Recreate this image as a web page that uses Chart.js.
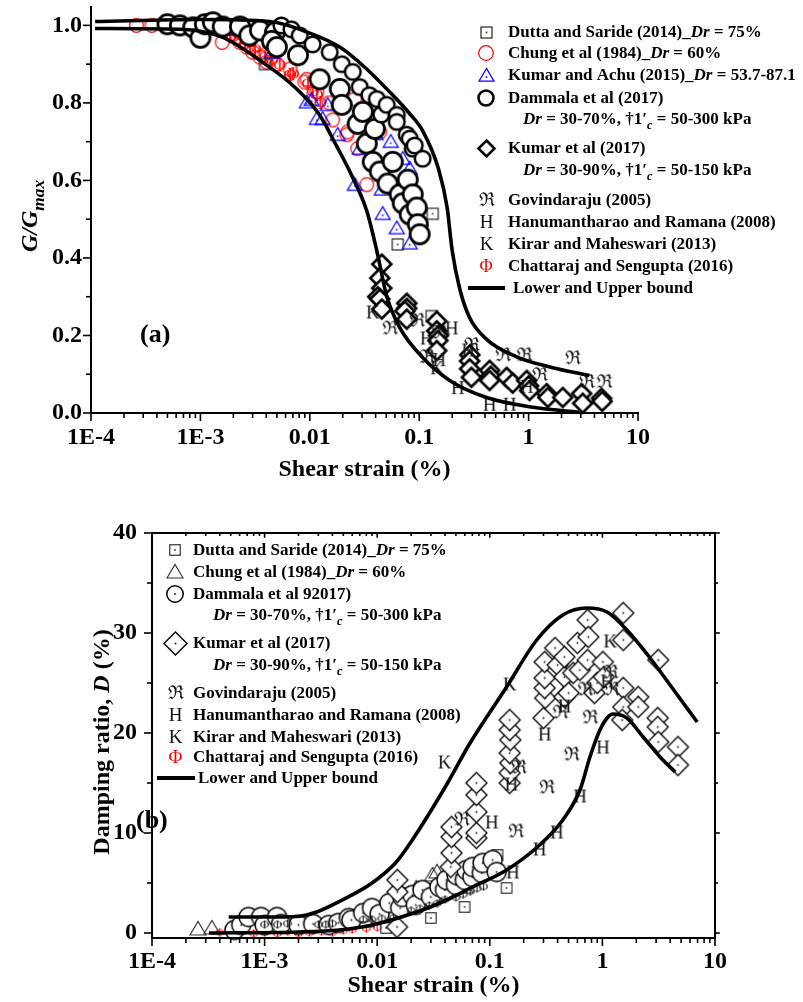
<!DOCTYPE html>
<html>
<head>
<meta charset="utf-8">
<script src="https://cdn.jsdelivr.net/npm/chart.js@4.4.1/dist/chart.umd.min.js"></script>
<style>
html, body { margin: 0; padding: 0; background: #fff; }
#wrap { position: relative; width: 803px; height: 1002px; overflow: hidden; }
canvas { position: absolute; left: 0; }
#c1 { top: 0; }
#c2 { top: 480px; }
</style>
</head>
<body>
<div id="wrap">
  <canvas id="c1" width="803" height="490"></canvas>
  <canvas id="c2" width="803" height="522"></canvas>
</div>
<script>
const FONT = '"Liberation Serif", "Times New Roman", serif';

// axis ticks
const xTickValues = [1e-4, 1e-3, 0.01, 0.1, 1, 10];
const xTickLabels = ['1E-4', '1E-3', '0.01', '0.1', '1', '10'];
const gTickValues = [0, 0.2, 0.4, 0.6, 0.8, 1.0];
const gTickLabels = ['0.0', '0.2', '0.4', '0.6', '0.8', '1.0'];
const dTickValues = [0, 10, 20, 30, 40];
const dTickLabels = ['0', '10', '20', '30', '40'];

// ---- (a) G/Gmax vs shear strain ----
const gUpperBound = [[1.09e-4,1.01],[1e-3,1.015],[4.3e-3,1.01],[0.01,0.98],[0.0188,0.944],[0.0318,0.892],[0.0538,0.828],[0.0819,0.772],[0.1076,0.728],[0.15,0.63],[0.18,0.53],[0.2,0.42],[0.235,0.32],[0.29,0.245],[0.413,0.19],[0.776,0.145],[1.66,0.117],[3.6,0.097]];
const gLowerBound = [[1.09e-4,0.992],[6.5e-4,0.99],[1.6e-3,0.969],[3.7e-3,0.905],[7.6e-3,0.836],[0.0123,0.769],[0.0177,0.687],[0.0232,0.623],[0.0332,0.521],[0.041,0.418],[0.0505,0.301],[0.0664,0.22],[0.1076,0.143],[0.19,0.084],[0.413,0.04],[1.09,0.015],[2.92,0.002]];
const gDutta = [[3.9e-3,0.9],[0.0636,0.435],[0.133,0.514],[0.13,0.25]];
const gChung = [[2.6e-4,1.0],[3.6e-4,1.0],[1.58e-3,0.956],[1.8e-3,1.0],[1.98e-3,0.977],[2.0e-3,0.995],[2.1e-3,0.99],[2.2e-3,0.97],[2.3e-3,0.956],[2.4e-3,0.98],[2.66e-3,0.944],[2.8e-3,0.965],[3.0e-3,0.931],[3.3e-3,0.95],[3.5e-3,0.918],[4.05e-3,0.905],[5.0e-3,0.9],[6.6e-3,0.887],[9.0e-3,0.854],[9.4e-3,0.861],[0.0116,0.828],[0.015,0.8],[0.0162,0.756],[0.0218,0.718],[0.0222,0.725],[0.0258,0.81],[0.0274,0.682],[0.0332,0.589],[0.034,0.772],[0.0436,0.725]];
const gChattaraj = [[1.86e-3,0.969],[2.2e-3,0.98],[2.55e-3,0.951],[2.9e-3,0.96],[3.15e-3,0.938],[3.9e-3,0.918],[4.5e-3,0.91],[5.3e-3,0.897],[6.6e-3,0.872],[7.0e-3,0.874],[9.6e-3,0.849],[0.0106,0.828],[0.0116,0.82],[0.0125,0.8]];
const gKumarAchu = [[1.3e-3,1.0],[2.0e-3,0.99],[4.5e-3,0.93],[9.4e-3,0.802],[0.0104,0.808],[0.0116,0.759],[0.0131,0.759],[0.0146,0.795],[0.018,0.718],[0.0258,0.589],[0.0286,0.682],[0.04,0.72],[0.0455,0.577],[0.0464,0.514],[0.055,0.7],[0.0624,0.477],[0.0707,0.656],[0.0819,0.631],[0.0819,0.438]];
const gDammalaLarge = [[5.0e-4,1.003],[6.5e-4,1.0],[8.6e-4,0.995],[1e-3,0.968],[1.1e-3,1.003],[1.3e-3,1.008],[1.6e-3,0.997],[2.3e-3,0.997],[2.8e-3,0.974],[3.5e-3,0.987],[4.8e-3,0.982],[4.5e-3,0.96],[5.0e-3,0.944],[7.8e-3,0.923],[0.0123,0.861],[0.0188,0.836],[0.0196,0.795],[0.0274,0.746],[0.0305,0.777],[0.0332,0.695],[0.0376,0.648],[0.0393,0.733],[0.0436,0.623],[0.0515,0.592],[0.0573,0.648],[0.0664,0.564],[0.0707,0.541],[0.0785,0.602],[0.0819,0.512],[0.0873,0.564],[0.095,0.53],[0.097,0.487],[0.101,0.461]];
const gDammalaSmall = [[5.5e-3,1.0],[6.8e-3,0.99],[8.1e-3,0.974],[0.0106,0.951],[0.0152,0.931],[0.0196,0.9],[0.0247,0.88],[0.0286,0.841],[0.035,0.82],[0.041,0.81],[0.045,0.77],[0.0505,0.795],[0.0624,0.769],[0.0624,0.751],[0.0769,0.718],[0.0819,0.708],[0.0873,0.682],[0.091,0.69],[0.1076,0.656]];
const gKumar = [[0.0455,0.384],[0.0436,0.348],[0.0455,0.322],[0.0418,0.3],[0.0436,0.294],[0.0455,0.268],[0.0769,0.283],[0.0769,0.27],[0.0738,0.263],[0.0769,0.242],[0.1445,0.237],[0.1445,0.212],[0.15,0.2],[0.148,0.187],[0.1445,0.161],[0.29,0.15],[0.289,0.134],[0.289,0.114],[0.3,0.092],[0.44,0.11],[0.45,0.095],[0.44,0.084],[0.63,0.092],[0.715,0.077],[0.96,0.084],[1.0,0.07],[1.02,0.058],[1.46,0.05],[1.5,0.04],[2.05,0.04],[3.05,0.05],[3.12,0.025],[4.64,0.038],[4.7,0.03]];
const gGovindaraju = [[0.0538,0.217],[0.095,0.237],[0.152,0.206],[0.117,0.143],[0.3,0.174],[0.58,0.148],[0.91,0.148],[1.26,0.097],[2.52,0.14],[3.39,0.079],[4.9,0.079]];
const gHanumantharao = [[0.198,0.217],[0.117,0.191],[0.152,0.135],[0.225,0.063],[0.28,0.16],[0.44,0.02],[0.67,0.02],[0.96,0.066]];
const gKirar = [[0.0376,0.258],[0.145,0.114]];

// ---- (b) damping ratio vs shear strain ----
const dUpperBound = [[4.8e-4,1.6],[1.3e-3,1.6],[2.1e-3,1.7],[2.9e-3,2.1],[4.7e-3,3.2],[9.0e-3,5.0],[0.0148,7.1],[0.0205,9.3],[0.0412,14.8],[0.066,18.9],[0.141,24.6],[0.261,29.3],[0.445,31.8],[0.728,32.5],[1.10,32.1],[1.65,30.3],[2.61,27.6],[4.3,24.3],[6.95,21.1]];
const dLowerBound = [[3.2e-4,0.0],[2.0e-3,0.1],[4.6e-3,0.3],[9.0e-3,0.8],[0.0252,2.3],[0.0412,3.3],[0.0703,4.6],[0.141,6.3],[0.277,8.8],[0.445,11.3],[0.632,14.3],[0.775,17.6],[0.95,20.3],[1.10,21.5],[1.24,21.9],[1.65,21.5],[2.30,19.6],[3.25,17.6],[4.43,16.1]];
const dDutta = [[0.012,0.5],[0.03,1.5],[0.0597,2.6],[0.141,4.5],[0.117,7.8]];
const dChung = [[2.56e-4,0.4],[3.4e-4,0.5],[8e-3,1.2],[0.013,2.0],[0.018,3.0],[0.0222,4.5],[0.025,3.5],[0.031,5.8],[0.034,6.1],[0.04,4.2],[0.05,5.0],[0.06,4.6]];
const dDammala = [[5.4e-4,0.3],[6.2e-4,0.8],[7.2e-4,1.6],[9.3e-4,1.6],[1.0e-3,0.8],[1.29e-3,1.6],[1.4e-3,0.9],[2.0e-3,0.8],[2.7e-3,0.9],[3.7e-3,0.8],[4.5e-3,1.0],[5.6e-3,1.5],[5.9e-3,1.3],[7.5e-3,2.0],[9.0e-3,2.5],[0.0105,1.9],[0.0128,3.0],[0.016,2.5],[0.0167,3.6],[0.0205,3.8],[0.022,2.8],[0.0252,4.3],[0.03,3.6],[0.0357,4.6],[0.04,4.3],[0.0412,5.3],[0.05,4.8],[0.0506,5.8],[0.06,5.3],[0.062,6.3],[0.07,5.6],[0.0703,6.6],[0.085,6.0],[0.0863,7.0],[0.106,7.3],[0.115,6.1]];
const dChainMarks = [[1.0e-3,0.9],[1.3e-3,0.9],[1.6e-3,1.0],[3.0e-3,0.9],[3.5e-3,0.9],[4.0e-3,1.0],[7.5e-3,1.4],[9.0e-3,1.4],[0.011,1.5],[0.014,1.6],[0.02,2.3],[0.024,2.5],[0.029,2.8],[0.034,3.0],[0.04,3.4],[0.05,3.6],[0.058,3.9],[0.067,4.2],[0.077,4.5],[0.088,4.7]];
const dChattaraj = [[4.0e-4,0.1],[5.0e-4,0.0],[6.0e-4,0.2],[8.0e-4,0.0],[1.0e-3,0.1],[1.3e-3,0.0],[1.6e-3,0.2],[2.0e-3,0.0],[2.5e-3,0.1],[3.2e-3,0.2],[4.0e-3,0.1],[5.0e-3,0.3],[6.0e-3,0.4],[8.0e-3,0.5],[0.01,0.6]];
const dKumar = [[0.015,0.6],[0.0151,4.1],[0.0151,5.3],[0.045,6.6],[0.0457,8.0],[0.0457,9.6],[0.0457,10.6],[0.076,9.5],[0.076,10.0],[0.076,12.1],[0.076,13.8],[0.076,15.0],[0.15,15.0],[0.15,16.0],[0.152,17.0],[0.15,18.0],[0.152,19.3],[0.15,20.3],[0.15,21.3],[0.3,21.5],[0.31,23.5],[0.307,24.5],[0.307,25.5],[0.307,27.1],[0.38,28.5],[0.4,26.8],[0.46,23.6],[0.46,25.6],[0.46,27.6],[0.5,24.0],[0.55,26.0],[0.6,29.0],[0.63,26.3],[0.74,27.3],[0.74,31.3],[0.75,29.6],[0.85,24.0],[0.9,25.0],[1.01,27.1],[1.03,25.6],[1.53,32.0],[1.53,29.3],[1.53,24.5],[1.53,22.6],[1.5,21.3],[2.08,23.6],[2.08,22.6],[3.13,27.3],[3.1,21.5],[3.1,20.6],[3.13,19.1],[4.69,18.6],[4.69,16.8]];
const dGovindaraju = [[0.056,11.3],[0.17,10.1],[0.18,16.5],[0.32,14.5],[0.42,22.0],[0.53,17.8],[0.7,24.3],[0.775,21.5],[1.17,26.0],[1.2,24.3]];
const dHanumantharao = [[0.104,11.0],[0.155,14.8],[0.16,6.0],[0.277,8.3],[0.307,19.8],[0.393,10.0],[0.46,22.6],[0.632,13.6],[1.01,18.5],[1.10,25.1]];
const dKirar = [[0.0396,17.0],[0.15,24.8],[1.17,29.1]];

// ---- marker pictures ----
function mk(w, h, draw) {
  const c = document.createElement('canvas');
  c.width = w; c.height = h;
  const g = c.getContext('2d');
  g.translate(w / 2, h / 2);
  draw(g);
  return c;
}
function dotAt(g, color) { g.fillStyle = color; g.fillRect(-0.8, -0.8, 1.6, 1.6); }
function circleMk(r, lw, color, fill, dot) {
  const s = Math.ceil(2 * r + lw + 2);
  return mk(s, s, g => {
    g.beginPath(); g.arc(0, 0, r, 0, Math.PI * 2);
    if (fill) { g.fillStyle = fill; g.fill(); }
    g.lineWidth = lw; g.strokeStyle = color; g.stroke();
    if (dot) dotAt(g, color);
  });
}
function diamondMk(h, lw, color, dot) {
  const s = Math.ceil(2 * h + lw + 2);
  return mk(s, s, g => {
    g.beginPath(); g.moveTo(0, -h); g.lineTo(h, 0); g.lineTo(0, h); g.lineTo(-h, 0); g.closePath();
    g.fillStyle = '#fff'; g.fill();
    g.lineWidth = lw; g.strokeStyle = color; g.lineJoin = 'miter'; g.stroke();
    if (dot) dotAt(g, color);
  });
}
function squareMk(a, lw, color) {
  const s = Math.ceil(a + lw + 2);
  return mk(s, s, g => {
    g.lineWidth = lw; g.strokeStyle = color; g.strokeRect(-a / 2, -a / 2, a, a);
    dotAt(g, color);
  });
}
function triangleMk(a, lw, color, dot) {
  const s = Math.ceil(2 * a + lw + 2);
  return mk(s, s, g => {
    g.beginPath(); g.moveTo(0, -a * 0.95); g.lineTo(a, a * 0.75); g.lineTo(-a, a * 0.75); g.closePath();
    g.lineWidth = lw; g.strokeStyle = color; g.stroke();
    if (dot) { g.translate(0, a * 0.2); dotAt(g, color); }
  });
}
function glyphMk(ch, size, color) {
  const s = Math.ceil(size * 1.4);
  return mk(s, s, g => {
    g.font = `${size}px ${FONT}`; g.fillStyle = color;
    g.textAlign = 'center'; g.textBaseline = 'middle';
    g.fillText(ch, 0, 1);
  });
}

const RE = '\u211C';
const mkG = {
  dutta: squareMk(11, 1.3, '#333'),
  chung: circleMk(6.8, 1.2, '#ff0000', null, false),
  achu: triangleMk(7.5, 1.2, '#0000ff', true),
  dammalaL: circleMk(9.6, 2.7, '#000', '#fff', false),
  dammalaS: circleMk(7.8, 2.5, '#000', '#fff', false),
  kumar: diamondMk(9.5, 2.6, '#000', false),
  gov: glyphMk(RE, 19, '#111'),
  han: glyphMk('H', 19, '#111'),
  kir: glyphMk('K', 19, '#111'),
  cha: glyphMk('\u03A6', 18, '#ff0000'),
  legCircle: circleMk(7.5, 2.6, '#000', '#fff', false),
  legDiamond: diamondMk(8, 2.6, '#000', false),
  legChung: circleMk(7.3, 1.2, '#ff0000', null, false)
};
const mkD = {
  dutta: squareMk(10.5, 1.2, '#333'),
  chung: triangleMk(8, 1.1, '#333', false),
  dammala: circleMk(9.5, 1.5, '#000', '#fff', true),
  kumar: diamondMk(10.5, 1.3, '#000', true),
  chain: glyphMk('\u03A6', 13, '#222'),
  cha: glyphMk('\u03A6', 13, '#ff0000'),
  gov: glyphMk(RE, 19, '#111'),
  han: glyphMk('H', 19, '#111'),
  kir: glyphMk('K', 19, '#111'),
  legCha: glyphMk('\u03A6', 19, '#ff0000'),
  legCircle: circleMk(8.2, 1.5, '#000', '#fff', true),
  legDiamond: diamondMk(11.5, 1.4, '#000', true)
};

// ---- helpers ----
const pts = a => a.map(([x, y]) => ({ x, y }));
function scat(data, pic, order) {
  return { data: pts(data), pointStyle: pic, pointRadius: 5, order, clip: false };
}
function bound(data) {
  return { data: pts(data), showLine: true, borderColor: '#000', borderWidth: 3.6, pointRadius: 0,
           cubicInterpolationMode: 'monotone', order: 0, clip: false };
}

function richParts(ctx, parts, size) {
  return parts.map(p => {
    const s = p.sub ? size * 0.72 : size;
    const font = `${p.i ? 'italic ' : ''}bold ${s}px ${FONT}`;
    ctx.font = font;
    return { t: p.t, font, w: ctx.measureText(p.t).width, dy: p.sub ? size * 0.28 : 0 };
  });
}
function drawRich(ctx, x, y, parts, size) {
  richParts(ctx, parts, size).forEach(p => {
    ctx.font = p.font; ctx.fillText(p.t, x, y + p.dy); x += p.w;
  });
}

// axis lines and tick marks, drawn from the chart's own scales
const framePlugin = {
  id: 'frame',
  afterDraw(chart, args, o) {
    const { ctx, chartArea: a } = chart;
    const sx = chart.scales.x, sy = chart.scales.y;
    const seg = (x1, y1, x2, y2) => { ctx.beginPath(); ctx.moveTo(x1, y1); ctx.lineTo(x2, y2); ctx.stroke(); };
    ctx.save();
    ctx.strokeStyle = '#000';
    ctx.lineWidth = 2;
    seg(a.left, a.top, a.left, a.bottom + 1);
    seg(a.left - 1, a.bottom, a.right + 1, a.bottom);
    if (o.mirror) { seg(a.left - 1, a.top, a.right + 1, a.top); seg(a.right, a.top, a.right, a.bottom + 1); }
    ctx.lineWidth = 1.6;
    const xTick = (v, len) => {
      const p = sx.getPixelForValue(v);
      seg(p, a.bottom, p, a.bottom + len);
      if (o.mirror) seg(p, a.top, p, a.top + len * 0.6);
    };
    xTickValues.forEach(v => xTick(v, 8));
    for (let e = -4; e < 1; e++) for (let m = 2; m < 10; m++) xTick(m * Math.pow(10, e), 5);
    const yTick = (v, len) => {
      const p = sy.getPixelForValue(v);
      seg(a.left, p, a.left - len, p);
      if (o.mirror) seg(a.right, p, a.right + len * 0.6, p);
    };
    o.yMajor.forEach(v => yTick(v, 8));
    for (let v = o.yMinor; v < sy.max; v += 2 * o.yMinor) yTick(v, 5);
    ctx.restore();
  }
};

// legend, panel label and the y title with italic / subscript parts
const notesPlugin = {
  id: 'notes',
  afterDraw(chart, args, o) {
    const ctx = chart.ctx;
    ctx.save();
    ctx.fillStyle = '#000'; ctx.strokeStyle = '#000';
    ctx.textAlign = 'left'; ctx.textBaseline = 'alphabetic';
    o.items.forEach(it => {
      if (it.mk) ctx.drawImage(it.mk, Math.round(o.symX - it.mk.width / 2), Math.round(it.y - it.mk.height / 2));
      if (it.line) { ctx.lineWidth = 4; ctx.beginPath(); ctx.moveTo(it.line[0], it.y); ctx.lineTo(it.line[1], it.y); ctx.stroke(); }
      drawRich(ctx, it.x || o.textX, it.y + 5, it.parts, o.size);
    });
    ctx.font = `bold 26px ${FONT}`;
    ctx.fillText(o.panel.t, o.panel.x, o.panel.y);
    const yt = o.yTitle;
    ctx.translate(yt.x, yt.y); ctx.rotate(-Math.PI / 2);
    const rp = richParts(ctx, yt.parts, yt.size);
    let xx = -rp.reduce((s, p) => s + p.w, 0) / 2;
    rp.forEach(p => { ctx.font = p.font; ctx.fillText(p.t, xx, p.dy); xx += p.w; });
    ctx.restore();
  }
};

const tickFont = { family: FONT, size: 24, weight: 'bold' };
function xScale(h, tickPad, titlePad) {
  return {
    type: 'logarithmic', min: 1e-4, max: 10,
    grid: { display: false, drawTicks: false }, border: { display: false },
    afterBuildTicks: s => { s.ticks = xTickValues.map(v => ({ value: v })); },
    afterFit: s => { s.height = h; s.paddingLeft = 0; s.paddingRight = 0; },
    ticks: { autoSkip: false, maxRotation: 0, padding: tickPad, color: '#000', font: tickFont,
             callback: (v, i) => xTickLabels[i] },
    title: { display: true, text: 'Shear strain (%)', color: '#000', font: tickFont, padding: { top: 0, bottom: titlePad } }
  };
}
function yScale(min, max, vals, labels, w, tickPad) {
  return {
    type: 'linear', min, max,
    grid: { display: false, drawTicks: false }, border: { display: false },
    afterBuildTicks: s => { s.ticks = vals.map(v => ({ value: v })); },
    afterFit: s => { s.width = w; s.paddingTop = 0; s.paddingBottom = 0; },
    ticks: { padding: tickPad, color: '#000', font: tickFont, callback: (v, i) => labels[i] }
  };
}
const D = [{ t: 'Dr', i: true }];

new Chart(document.getElementById('c1'), {
  type: 'scatter',
  data: {
    datasets: [
      bound(gUpperBound), bound(gLowerBound),
      scat(gGovindaraju, mkG.gov, 1), scat(gHanumantharao, mkG.han, 1), scat(gKirar, mkG.kir, 1),
      scat(gKumar, mkG.kumar, 2),
      scat(gDammalaSmall, mkG.dammalaS, 3), scat(gDammalaLarge, mkG.dammalaL, 3),
      scat(gDutta, mkG.dutta, 4), scat(gKumarAchu, mkG.achu, 5),
      scat(gChattaraj, mkG.cha, 6), scat(gChung, mkG.chung, 7)
    ]
  },
  options: {
    responsive: false, animation: false, events: [],
    layout: { padding: { left: 0, right: 165, top: 3, bottom: 0 } },
    scales: { x: xScale(77, 10, 6), y: yScale(0, 1.05, gTickValues, gTickLabels, 91, 9) },
    plugins: {
      legend: { display: false }, tooltip: { enabled: false },
      frame: { mirror: false, yMajor: gTickValues, yMinor: 0.1 },
      notes: {
        symX: 486, textX: 508, size: 17,
        panel: { t: '(a)', x: 140, y: 342 },
        yTitle: { x: 37, y: 216, size: 24, parts: [{ t: 'G/G', i: true }, { t: 'max', i: true, sub: true }] },
        items: [
          { mk: mkG.dutta, y: 32, parts: [{ t: 'Dutta and Saride (2014)_' }, ...D, { t: ' = 75%' }] },
          { mk: mkG.legChung, y: 53, parts: [{ t: 'Chung et al (1984)_' }, ...D, { t: ' = 60%' }] },
          { mk: mkG.achu, y: 75, parts: [{ t: 'Kumar and Achu (2015)_' }, ...D, { t: ' = 53.7-87.1' }] },
          { mk: mkG.legCircle, y: 98, parts: [{ t: 'Dammala et al (2017)' }] },
          { x: 523, y: 119, parts: [...D, { t: ' = 30-70%, \u20201\u2032' }, { t: 'c', i: true, sub: true }, { t: ' = 50-300 kPa' }] },
          { mk: mkG.legDiamond, y: 148, parts: [{ t: 'Kumar et al (2017)' }] },
          { x: 523, y: 170, parts: [...D, { t: ' = 30-90%, \u20201\u2032' }, { t: 'c', i: true, sub: true }, { t: ' = 50-150 kPa' }] },
          { mk: mkG.gov, y: 200, parts: [{ t: 'Govindaraju (2005)' }] },
          { mk: mkG.han, y: 222, parts: [{ t: 'Hanumantharao and Ramana (2008)' }] },
          { mk: mkG.kir, y: 244, parts: [{ t: 'Kirar and Maheswari (2013)' }] },
          { mk: mkG.cha, y: 266, parts: [{ t: 'Chattaraj and Sengupta (2016)' }] },
          { line: [468, 505], x: 513, y: 288, parts: [{ t: 'Lower and Upper bound' }] }
        ]
      }
    }
  },
  plugins: [framePlugin, notesPlugin]
});

new Chart(document.getElementById('c2'), {
  type: 'scatter',
  data: {
    datasets: [
      bound(dUpperBound), bound(dLowerBound),
      scat(dGovindaraju, mkD.gov, 1), scat(dHanumantharao, mkD.han, 1), scat(dKirar, mkD.kir, 1),
      scat(dKumar, mkD.kumar, 2),
      scat(dChainMarks, mkD.chain, 3),
      scat(dDammala, mkD.dammala, 4),
      scat(dDutta, mkD.dutta, 5), scat(dChung, mkD.chung, 6),
      scat(dChattaraj, mkD.cha, 7)
    ]
  },
  options: {
    responsive: false, animation: false, events: [],
    layout: { padding: { left: 0, right: 88, top: 53, bottom: 0 } },
    scales: { x: xScale(64, 9, 2), y: yScale(-0.5, 40, dTickValues, dTickLabels, 152, 15) },
    plugins: {
      legend: { display: false }, tooltip: { enabled: false },
      frame: { mirror: true, yMajor: dTickValues, yMinor: 5 },
      notes: {
        symX: 175, textX: 193, size: 17,
        panel: { t: '(b)', x: 136, y: 348 },
        yTitle: { x: 109, y: 262, size: 24, parts: [{ t: 'Damping ratio, ' }, { t: 'D', i: true }, { t: ' (%)' }] },
        items: [
          { mk: mkD.dutta, y: 70, parts: [{ t: 'Dutta and Saride (2014)_' }, ...D, { t: ' = 75%' }] },
          { mk: mkD.chung, y: 92, parts: [{ t: 'Chung et al (1984)_' }, ...D, { t: ' = 60%' }] },
          { mk: mkD.legCircle, y: 114, parts: [{ t: 'Dammala et al 92017)' }] },
          { x: 213, y: 135, parts: [...D, { t: ' = 30-70%, \u20201\u2032' }, { t: 'c', i: true, sub: true }, { t: ' = 50-300 kPa' }] },
          { mk: mkD.legDiamond, y: 163, parts: [{ t: 'Kumar et al (2017)' }] },
          { x: 213, y: 185, parts: [...D, { t: ' = 30-90%, \u20201\u2032' }, { t: 'c', i: true, sub: true }, { t: ' = 50-150 kPa' }] },
          { mk: mkD.gov, y: 213, parts: [{ t: 'Govindaraju (2005)' }] },
          { mk: mkD.han, y: 235, parts: [{ t: 'Hanumantharao and Ramana (2008)' }] },
          { mk: mkD.kir, y: 257, parts: [{ t: 'Kirar and Maheswari (2013)' }] },
          { mk: mkD.legCha, y: 277, parts: [{ t: 'Chattaraj and Sengupta (2016)' }] },
          { line: [157, 195], x: 198, y: 298, parts: [{ t: 'Lower and Upper bound' }] }
        ]
      }
    }
  },
  plugins: [framePlugin, notesPlugin]
});
</script>
</body>
</html>
